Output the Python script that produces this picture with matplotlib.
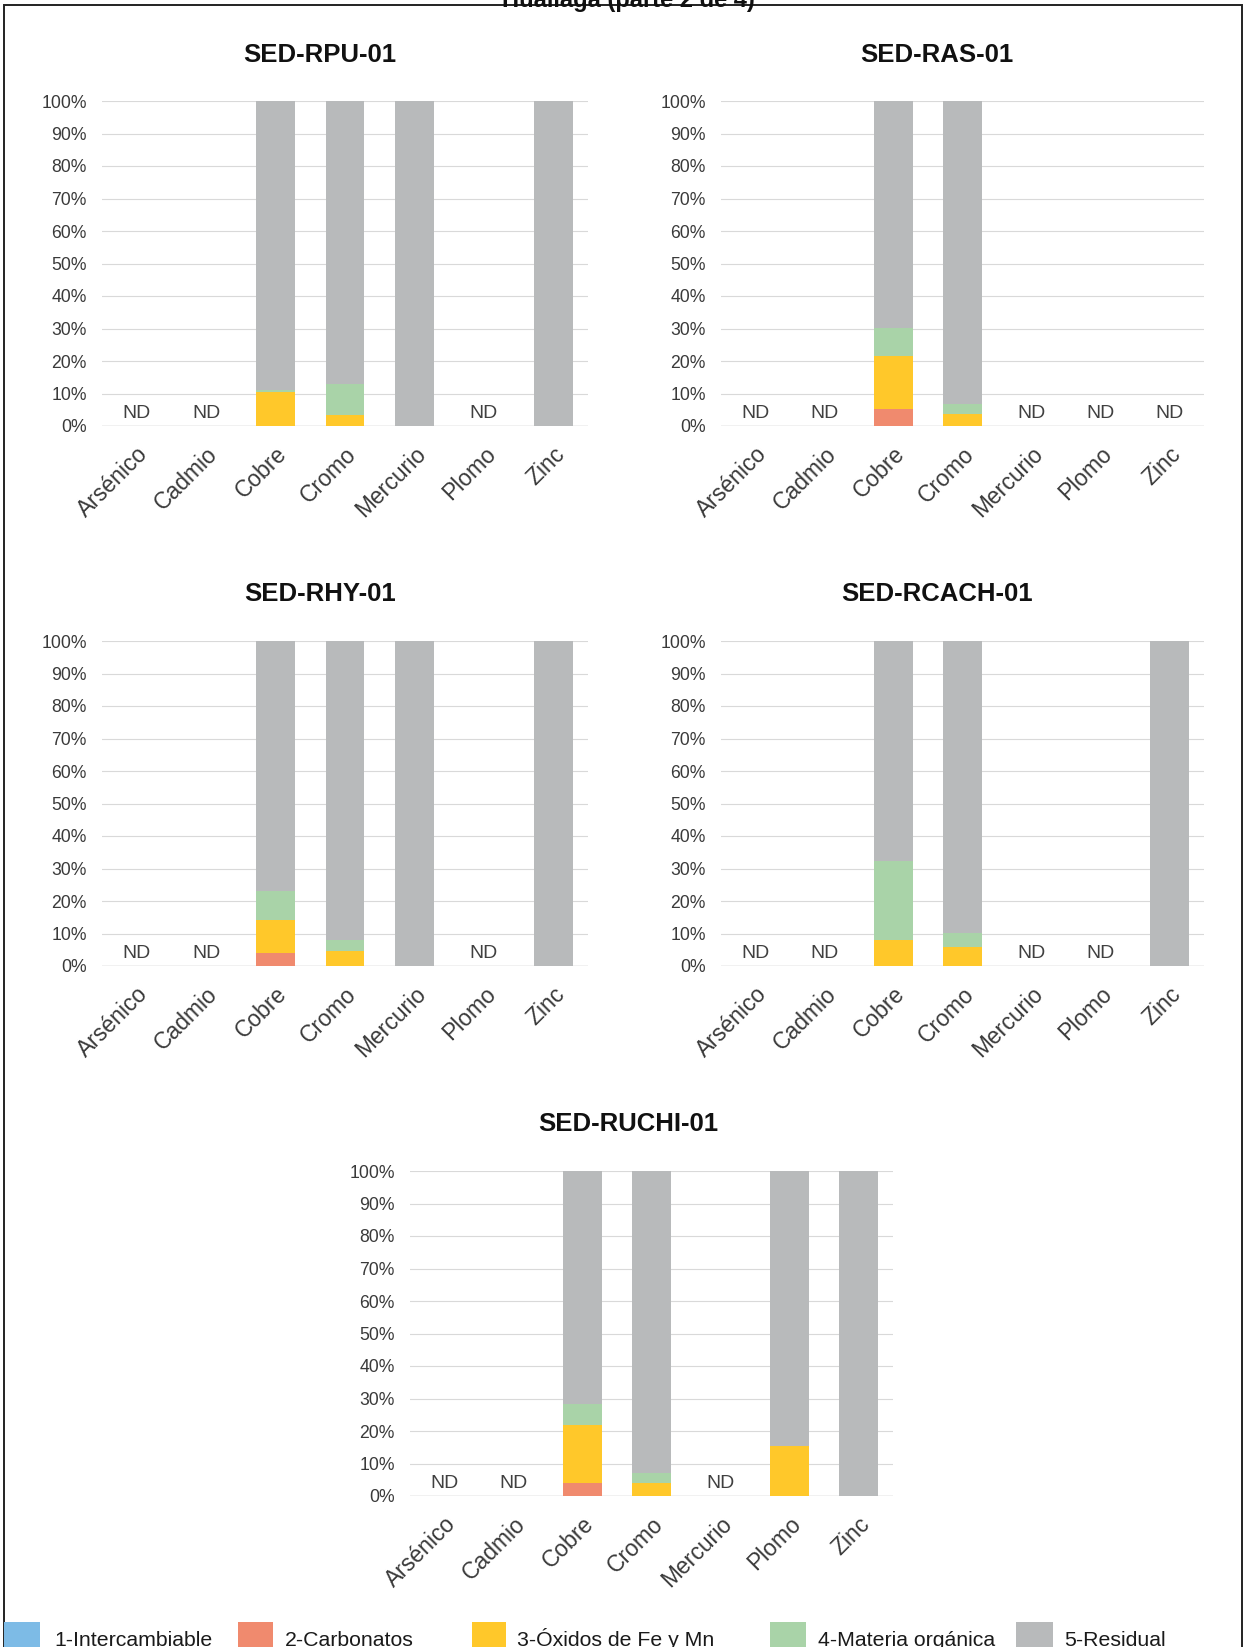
import matplotlib
matplotlib.use('Agg')
import matplotlib.pyplot as plt
from matplotlib.patches import Rectangle
from matplotlib.ticker import FuncFormatter

plt.rcParams['font.family'] = ['Liberation Sans', 'DejaVu Sans']

# Datos: porcentaje de cada fraccion por elemento (None = ND)
elementos = ['Arsénico', 'Cadmio', 'Cobre', 'Cromo', 'Mercurio', 'Plomo', 'Zinc']
fracciones = ['1-Intercambiable', '2-Carbonatos', '3-Óxidos de Fe y Mn',
              '4-Materia orgánica', '5-Residual']
colores = ['#7DBBE6', '#F08A6E', '#FFC82A', '#A9D3A8', '#B8BABB']

sed_rpu_01 = [None, None,
              [0, 0, 10.5, 0.5, 89.0],
              [0, 0, 3.5, 9.5, 87.0],
              [0, 0, 0, 0, 100],
              None,
              [0, 0, 0, 0, 100]]
sed_ras_01 = [None, None,
              [0, 5.3, 16.2, 8.8, 69.7],
              [0, 0, 3.6, 3.1, 93.3],
              None, None, None]
sed_rhy_01 = [None, None,
              [0, 4.1, 10.0, 9.0, 76.9],
              [0, 0, 4.6, 3.3, 92.1],
              [0, 0, 0, 0, 100],
              None,
              [0, 0, 0, 0, 100]]
sed_rcach_01 = [None, None,
                [0, 0, 7.9, 24.5, 67.6],
                [0, 0, 5.7, 4.5, 89.8],
                None, None,
                [0, 0, 0, 0, 100]]
sed_ruchi_01 = [None, None,
                [0, 3.9, 17.8, 6.5, 71.8],
                [0, 0, 4.1, 3.1, 92.8],
                None,
                [0, 0, 15.3, 0, 84.7],
                [0, 0, 0, 0, 100]]

estaciones = ['SED-RPU-01', 'SED-RAS-01', 'SED-RHY-01', 'SED-RCACH-01', 'SED-RUCHI-01']
datos = [sed_rpu_01, sed_ras_01, sed_rhy_01, sed_rcach_01, sed_ruchi_01]

W, H = 1248, 1647
fig = plt.figure(figsize=(W / 100, H / 100), dpi=100)

def fx(px):
    return px / W

def fy(py):
    return 1 - py / H

# cajas de cada grafico en pixeles: izquierda, arriba (100%), ancho, alto
cajas = [(102, 101, 486, 325),
         (721, 101, 483, 325),
         (102, 641, 486, 325),
         (721, 641, 483, 325),
         (410, 1171, 483, 325)]
titulo_px = [(320, 62), (937, 62), (320, 601), (937, 601), (628, 1131)]

for nombre, filas, caja, tpos in zip(estaciones, datos, cajas, titulo_px):
    l, t, w, h = caja
    ax = fig.add_axes([fx(l), fy(t + h), w / W, h / H])
    x = list(range(len(elementos)))
    base = [0] * len(elementos)
    for k in range(len(fracciones)):
        vals = [f[k] if f is not None else 0 for f in filas]
        ax.bar(x, vals, width=0.56, bottom=base, color=colores[k], linewidth=0, zorder=2)
        base = [b + v for b, v in zip(base, vals)]
    for i, f in enumerate(filas):
        if f is None:
            ax.text(i, 4.0, 'ND', ha='center', va='center', fontsize=14, color='#404040')
    ax.set_xlim(-0.5, len(elementos) - 0.5)
    ax.set_ylim(0, 100)
    ax.set_yticks(range(0, 101, 10))
    ax.yaxis.set_major_formatter(FuncFormatter(lambda v, p: '%d%%' % v))
    ax.grid(axis='y', color='#d9d9d9', linewidth=0.8, zorder=0)
    ax.axhline(0, color='#c4c4c4', linewidth=1.0, zorder=1)
    for s in ax.spines.values():
        s.set_visible(False)
    ax.tick_params(axis='both', length=0, labelcolor='#3a3a3a')
    ax.tick_params(axis='y', pad=11, labelsize=12.7)
    ax.tick_params(axis='x', pad=12, labelsize=16.5)
    ax.set_xticks(x)
    ax.set_xticklabels(elementos, rotation=45, ha='right', rotation_mode='anchor')
    fig.text(fx(tpos[0]), fy(tpos[1]), nombre, ha='center', va='baseline',
             fontsize=18.5, fontweight='bold', color='#111111')

# titulo superior (cortado)
fig.text(fx(628), fy(6.5), 'Huallaga (parte 2 de 4)', ha='center', va='baseline',
         fontsize=17, fontweight='bold', color='#111111')

# marco exterior
fig.add_artist(Rectangle((fx(4), fy(H + 20)), fx(1242 - 4), (H + 15) / H,
                         transform=fig.transFigure, fill=False,
                         edgecolor='#222222', linewidth=1.4))

# leyenda manual
ley_x = [(4, 40, 54), (238, 273, 285), (472, 506, 517), (770, 806, 818), (1016, 1053, 1064)]
for (x0, x1, xt), nombre, c in zip(ley_x, fracciones, colores):
    fig.add_artist(Rectangle((fx(x0), fy(H + 5)), fx(x1 - x0), (H + 5 - 1622) / H,
                             transform=fig.transFigure, facecolor=c, edgecolor='none'))
    fig.text(fx(xt), fy(1646), nombre, ha='left', va='baseline', fontsize=15.3,
             color='#1a1a1a')

fig.savefig('out.png', dpi=100)
